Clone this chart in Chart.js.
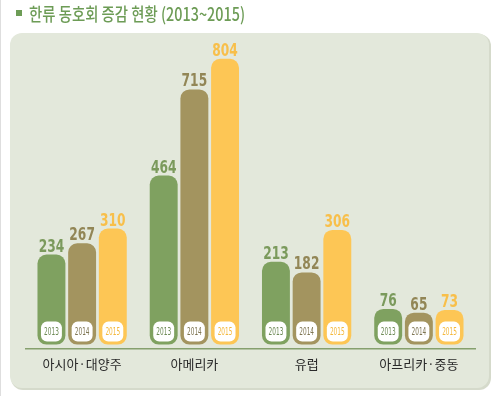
<!DOCTYPE html>
<html>
<head>
<meta charset="utf-8">
<script src="https://cdn.jsdelivr.net/npm/chart.js@4"></script>
<style>
  html, body { margin: 0; padding: 0; background: #fff; }
  #wrap { width: 500px; height: 396px; }
</style>
</head>
<body>
<div id="wrap"><canvas id="chart" width="500" height="396"></canvas></div>
<script>
// 한류 동호회 증감 현황
const chartTitle = "한류 동호회 증감 현황 (2013~2015)";
const regions = ["아시아·대양주", "아메리카", "유럽", "아프리카·중동"];
const years = ["2013", "2014", "2015"];
const v2013 = [234, 464, 213, 76];
const v2014 = [267, 715, 182, 65];
const v2015 = [310, 804, 306, 73];

const barColors = ["#7fa160", "#a3945f", "#fdc655"];
const labelColors = ["#7b9a5c", "#928656", "#f8bf4a"];
const boxTextColors = ["#6d8a55", "#7e7552", "#f4b83c"];

const numFont = "'DejaVu Sans', sans-serif";
const BASE = -28;

// draws text squeezed horizontally (the original uses a narrow font)
function narrowText(ctx, txt, x, y, sx) {
    ctx.save();
    ctx.translate(x, y);
    ctx.scale(sx, 1);
    ctx.fillText(txt, 0, 0);
    ctx.restore();
}

const panelPlugin = {
    id: 'panel',
    beforeDraw(chart) {
        const ctx = chart.ctx;
        ctx.save();
        ctx.fillStyle = "#ffffff";
        ctx.fillRect(0, 0, chart.width, chart.height);
        ctx.fillStyle = "#dedede";
        ctx.fillRect(0, 0, 1, chart.height);
        // shadow
        ctx.fillStyle = "#d5dacb";
        ctx.beginPath();
        ctx.roundRect(11, 34, 480, 356, 12);
        ctx.fill();
        ctx.fillStyle = "#e3e8db";
        ctx.beginPath();
        ctx.roundRect(10, 33, 479, 355, 12);
        ctx.fill();

        // title
        ctx.fillStyle = "#6d9c56";
        ctx.fillRect(16, 10, 6, 6);
        ctx.font = "500 18px 'Noto Sans CJK KR', sans-serif";
        ctx.textBaseline = "middle";
        ctx.textAlign = "left";
        const w = ctx.measureText(chartTitle).width;
        narrowText(ctx, chartTitle, 29, 14, 216 / w);
        ctx.restore();
    }
};

const labelPlugin = {
    id: 'barLabels',
    afterDatasetsDraw(chart) {
        const ctx = chart.ctx;
        const yScale = chart.scales.y;
        const basePx = yScale.getPixelForValue(BASE);
        ctx.save();
        ctx.textAlign = "center";
        chart.data.datasets.forEach((ds, i) => {
            const meta = chart.getDatasetMeta(i);
            meta.data.forEach((bar, j) => {
                const bw = bar.width;
                // value above bar
                ctx.fillStyle = labelColors[i];
                ctx.font = "bold 18px " + numFont;
                ctx.textBaseline = "alphabetic";
                narrowText(ctx, String(ds.data[j]), bar.x, bar.y - 3, 0.68);

                // white year box inside bar
                const bx = bar.x - bw / 2 + 3.5;
                const by = basePx - 23;
                ctx.fillStyle = "#ffffff";
                ctx.beginPath();
                ctx.roundRect(bx, by, bw - 7, 20, 6);
                ctx.fill();
                ctx.fillStyle = boxTextColors[i];
                ctx.font = "10px " + numFont;
                ctx.textBaseline = "middle";
                narrowText(ctx, ds.label, bar.x, by + 10.5, 0.58);
            });
        });
        ctx.restore();
    }
};

const datasets = [v2013, v2014, v2015].map((vals, i) => ({
    label: years[i],
    data: vals,
    base: BASE,
    backgroundColor: barColors[i],
    borderRadius: 9,
    borderSkipped: false,
    categoryPercentage: 0.82,
    barPercentage: 0.91
}));

new Chart(document.getElementById('chart'), {
    type: 'bar',
    data: { labels: regions, datasets: datasets },
    options: {
        responsive: false,
        animation: false,
        layout: { padding: { top: 43, left: 26, right: 25, bottom: 16 } },
        plugins: {
            legend: { display: false },
            tooltip: { enabled: false }
        },
        scales: {
            x: {
                grid: { display: false, drawTicks: false },
                border: { display: true, color: "#86a06e", width: 1.5 },
                ticks: {
                    color: "#2a2a2a",
                    padding: 8,
                    font: { family: "'Noto Sans CJK KR', sans-serif", size: 13 }
                }
            },
            y: {
                display: false,
                min: -39,
                max: 850
            }
        }
    },
    plugins: [panelPlugin, labelPlugin]
});
</script>
</body>
</html>
